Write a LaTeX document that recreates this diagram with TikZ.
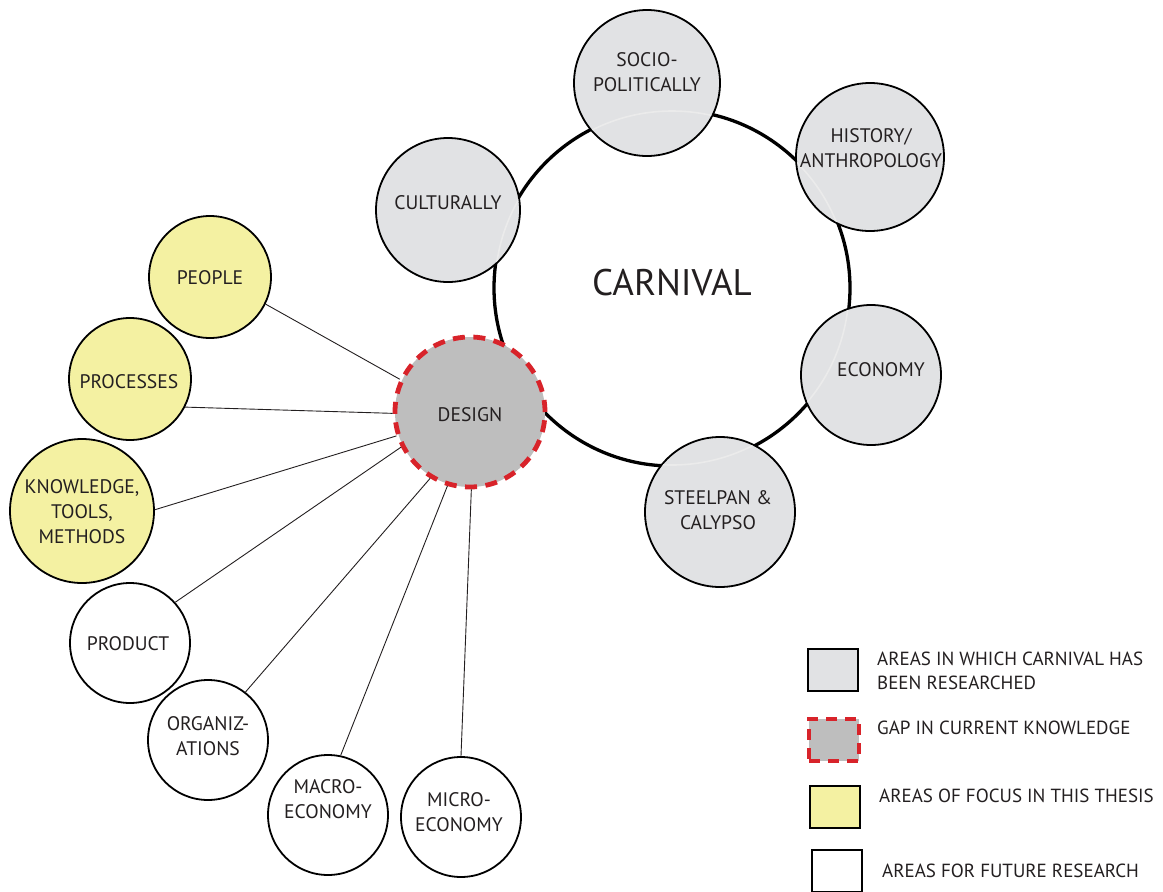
\documentclass[tikz,border=0pt]{standalone}
\usepackage{fontspec}
\setmainfont{PT Sans}
\definecolor{grayfill}{HTML}{E1E2E4}
\definecolor{gapfill}{HTML}{BEBEBE}
\definecolor{gapred}{HTML}{D8232A}
\definecolor{yellowfill}{HTML}{F4F1A2}
\definecolor{ink}{HTML}{231F20}
\begin{document}
\begin{tikzpicture}[x=1pt,y=-1pt,
  lbl/.style={font=\fontsize{19.6}{25}\selectfont, align=center, text=ink, inner sep=0pt},
  bubble/.style={circle, draw=black, line width=1.8pt, inner sep=0pt},
  researched/.style={bubble, fill=grayfill},
  focus/.style={bubble, fill=yellowfill},
  future/.style={bubble, fill=white},
  gap/.style={circle, fill=gapfill, draw=gapred, line width=4.8pt,
    dash pattern=on 12pt off 8.5pt, inner sep=0pt},
  link/.style={draw=ink, line width=0.9pt},
  keybox/.style={rectangle, draw=black, line width=1.8pt, minimum width=50pt,
    minimum height=42pt, inner sep=0pt},
  keytext/.style={font=\fontsize{19}{23.5}\selectfont, align=left, text=ink,
    anchor=west, inner sep=0pt},
]
\useasboundingbox (0,0) rectangle (1163,892);

% central topic
\node[circle, draw=black, line width=3.3pt, fill=white, minimum size=356pt,
  inner sep=0pt] (carnival) at (672,288) {};
\node[font=\fontsize{37}{40}\selectfont, text=ink] (carnival-text) at (672,283) {CARNIVAL};

% areas already researched
\node[researched, minimum size=144pt] (cult) at (448,210) {};
\node[researched, minimum size=146pt] (socio) at (647,83) {};
\node[researched, minimum size=148pt] (hist) at (870,157) {};
\node[researched, minimum size=140pt] (econ) at (871,375) {};
\node[researched, minimum size=150pt] (steel) at (720,512) {};

% faint trace of the main ring showing through the satellites
\begin{scope}
  \clip (cult) circle (71pt) (socio) circle (72pt) (hist) circle (73pt)
        (econ) circle (69pt) (steel) circle (74pt);
  \draw[black!8, line width=1.6pt] (carnival.center) circle (177pt);
\end{scope}

\node[lbl] (cult-text) at (448,203) {CULTURALLY};
\node[lbl] (socio-text) at (647,72) {SOCIO-\\POLITICALLY};
\node[lbl] (hist-text) at (871,148) {HISTORY/\\ANTHROPOLOGY};
\node[lbl] (econ-text) at (881,370) {ECONOMY};
\node[lbl] (steel-text) at (718,510) {STEELPAN \&\\CALYPSO};

% the gap
\node[gap, minimum size=150pt] (design) at (470,412) {};
\node[lbl] (design-text) at (470,415) {DESIGN};

% focus areas
\node[focus, minimum size=122pt] (people) at (210,277) {};
\node[lbl] (people-text) at (210,278) {PEOPLE};
\node[focus, minimum size=122pt] (proc) at (130,379) {};
\node[lbl] (proc-text) at (129,382) {PROCESSES};
\node[focus, minimum size=144pt] (know) at (82,511) {};
\node[lbl] (know-text) at (82,512) {KNOWLEDGE,\\TOOLS,\\METHODS};

% future research
\node[future, minimum size=120pt] (prod) at (130,643) {};
\node[lbl] (prod-text) at (128,644) {PRODUCT};
\node[future, minimum size=120pt] (org) at (208,740) {};
\node[lbl] (org-text) at (208,736) {ORGANIZ-\\ATIONS};
\node[future, minimum size=120pt] (macro) at (328,815) {};
\node[lbl] (macro-text) at (328,799) {MACRO-\\ECONOMY};
\node[future, minimum size=120pt] (micro) at (461,817) {};
\node[lbl] (micro-text) at (459,812) {MICRO-\\ECONOMY};

% connectors from the gap
\draw[link] (people.-26) -- (design.155);
\draw[link] (proc.-27) -- (design.181);
\draw[link] (know.1) -- (design.198);
\draw[link] (prod.42) -- (design.207);
\draw[link] (org.52) -- (design.239);
\draw[link] (macro.78) -- (design.253);
\draw[link] (micro.90) -- (design.271);

% key
\node[keybox, fill=grayfill] (key1) at (833,670) {};
\node[keytext] (key1-text) at (877,671) {AREAS IN WHICH CARNIVAL HAS\\BEEN RESEARCHED};
\node[keybox, fill=gapfill, draw=gapred, line width=4.5pt,
  dash pattern=on 11pt off 8pt] (key2) at (834,740) {};
\node[keytext] (key2-text) at (877,728) {GAP IN CURRENT KNOWLEDGE};
\node[keybox, fill=yellowfill] (key3) at (835,807) {};
\node[keytext] (key3-text) at (879,796) {AREAS OF FOCUS IN THIS THESIS};
\node[keybox, fill=white] (key4) at (837,871) {};
\node[keytext] (key4-text) at (882,871) {AREAS FOR FUTURE RESEARCH};
\end{tikzpicture}
\end{document}
